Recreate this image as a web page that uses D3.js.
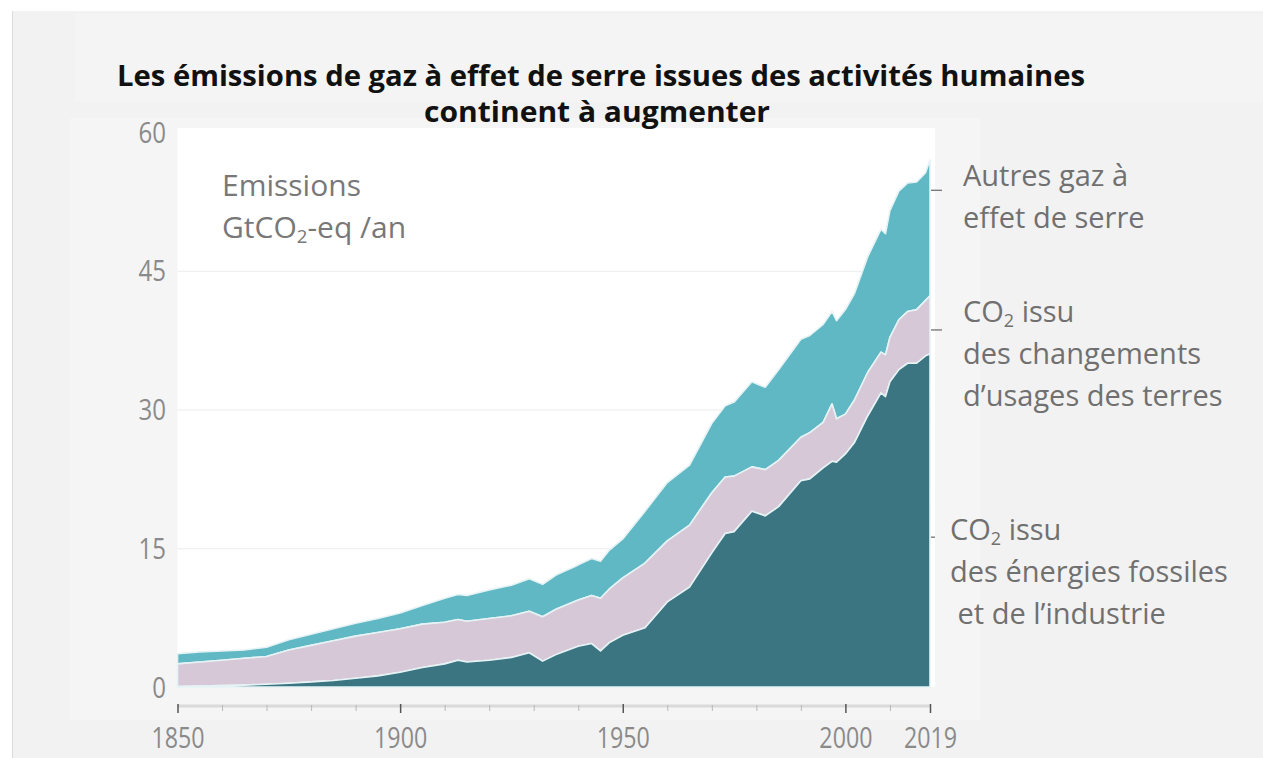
<!DOCTYPE html>
<html>
<head>
<meta charset="utf-8">
<script src="https://cdn.jsdelivr.net/npm/d3@7"></script>
<style>
  body { margin: 0; background: #fff; }
  svg { display: block; }
</style>
</head>
<body>
<svg id="chart"></svg>
<script>
// values (GtCO2-eq / an)
const years = [1850, 1855, 1860, 1865, 1870, 1875, 1880, 1885, 1890, 1895,
    1900, 1905, 1910, 1913, 1915, 1920, 1925, 1929, 1932, 1935,
    1940, 1943, 1945, 1947, 1950, 1955, 1960, 1965, 1970, 1973,
    1975, 1979, 1982, 1985, 1990, 1992, 1995, 1997, 1998, 2000,
    2002, 2005, 2008, 2009, 2010, 2012, 2014, 2016, 2018, 2019]

const fossil = [0.05, 0.1, 0.15, 0.2, 0.3, 0.4, 0.55, 0.7, 0.95, 1.2,
    1.6, 2.1, 2.5, 2.9, 2.7, 2.9, 3.2, 3.7, 2.8, 3.5,
    4.4, 4.7, 3.9, 4.8, 5.6, 6.4, 9.2, 10.8, 14.5, 16.6,
    16.8, 19.0, 18.5, 19.5, 22.3, 22.5, 23.7, 24.4, 24.3, 25.2,
    26.4, 29.3, 31.8, 31.4, 33.0, 34.3, 35.0, 35.0, 35.8, 36.0]

const landUse = [2.45, 2.6, 2.75, 2.9, 3.0, 3.6, 3.95, 4.3, 4.55, 4.7,
    4.7, 4.7, 4.5, 4.4, 4.4, 4.5, 4.5, 4.5, 4.8, 4.9,
    5.0, 5.2, 5.7, 5.8, 6.2, 7.0, 6.6, 6.7, 6.5, 6.1,
    6.0, 4.8, 5.0, 5.0, 4.7, 5.0, 4.9, 6.2, 4.7, 4.3,
    4.6, 4.7, 4.4, 4.5, 4.8, 5.4, 5.6, 5.8, 6.0, 6.3]

const otherGases = [1.1, 1.1, 1.0, 0.9, 1.0, 1.1, 1.2, 1.3, 1.4, 1.5,
    1.7, 2.0, 2.6, 2.7, 2.8, 3.1, 3.3, 3.5, 3.5, 3.7,
    3.8, 4.0, 4.0, 4.2, 4.2, 5.6, 6.3, 6.5, 7.5, 7.7,
    8.0, 9.2, 8.9, 9.8, 10.6, 10.5, 10.6, 10.0, 10.6, 11.3,
    11.5, 12.5, 13.3, 13.1, 13.7, 13.9, 13.9, 13.8, 13.8, 14.7]

const seriesKeys = ['fossil', 'landUse', 'otherGases']
const yTicks = [0, 15, 30, 45, 60]
const gridTicks = [15, 30, 45]
const xLabels = [1850, 1900, 1950, 2000, 2019]
const xMinor = [1860, 1870, 1880, 1890, 1910, 1920, 1930, 1940, 1960, 1970, 1980, 1990, 2010]
const titleLines = ['Les émissions de gaz à effet de serre issues des activités humaines', 'continent à augmenter']

const colors = { fossil: '#3b7581', landUse: '#d7c8d8', otherGases: '#5fb8c3' }

const W = 1263, H = 758
const svg = d3.select('#chart').attr('width', W).attr('height', H)
const font = "'Open Sans', 'Noto Sans', sans-serif"

// background panels
svg.append('rect').attr('x', 12).attr('y', 11).attr('width', W - 12).attr('height', H - 11)
    .attr('fill', '#f2f2f2')
svg.append('line').attr('x1', 12.5).attr('x2', 12.5).attr('y1', 11).attr('y2', H)
    .attr('stroke', '#dcdcdc')
svg.append('rect').attr('x', 75).attr('y', 14).attr('width', W - 75).attr('height', 88)
    .attr('fill', '#f4f4f4')
svg.append('rect').attr('x', 70).attr('y', 118).attr('width', 910).attr('height', 602)
    .attr('fill', '#f5f5f5')

const x = d3.scaleLinear().domain([1850, 2019]).range([177.5, 930])
const y = d3.scaleLinear().domain([0, 60]).range([687, 132])

// plot background
svg.append('rect')
    .attr('x', x(1850)).attr('y', y(60) - 4)
    .attr('width', x(2019) - x(1850) + 5).attr('height', y(0) - y(60) + 4)
    .attr('fill', '#ffffff')

// gridlines
svg.append('g')
    .attr('transform', `translate(${x(1850)},0)`)
    .call(d3.axisLeft(y).tickValues(gridTicks).tickSize(-(x(2019) - x(1850))).tickFormat(''))
    .call(g => g.select('.domain').remove())
    .call(g => g.selectAll('line').attr('stroke', '#ececec'))

// stacked areas
let rows = years.map((yr, i) => ({ year: yr, fossil: fossil[i], landUse: landUse[i], otherGases: otherGases[i] }))
let stacked = d3.stack().keys(seriesKeys)(rows)

let area = d3.area()
    .x(d => x(d.data.year))
    .y0(d => y(d[0]))
    .y1(d => y(d[1]))

svg.append('g').selectAll('path')
    .data(stacked.slice().reverse())
    .enter()
    .append('path')
    .attr('d', area)
    .attr('fill', d => colors[d.key])
    .attr('stroke', '#e6f3f5')
    .attr('stroke-width', 1.6)
    .attr('stroke-linejoin', 'round')

// squeeze tick labels a bit, the original face is narrower
function narrow (sel, k) {
    sel.each(function () {
        let w = this.getComputedTextLength()
        d3.select(this).attr('textLength', w * k).attr('lengthAdjust', 'spacingAndGlyphs')
    })
}

// y axis labels
svg.append('g')
    .attr('transform', 'translate(166,0)')
    .call(d3.axisLeft(y).tickValues(yTicks).tickSize(0).tickPadding(0))
    .call(g => g.select('.domain').remove())
    .call(g => g.selectAll('text')
        .attr('font-family', font).attr('font-size', 30).attr('fill', '#8a8a8a')
        .attr('dy', '0.34em').attr('x', 0)
        .call(narrow, 0.8))

// x axis
let xAxisG = svg.append('g').attr('transform', 'translate(0,706)')
xAxisG.append('line')
    .attr('x1', x(1850)).attr('x2', x(2019))
    .attr('stroke', '#dadada').attr('stroke-width', 3)
xAxisG.append('g')
    .call(d3.axisBottom(x).tickValues(xMinor).tickSize(5).tickFormat(''))
    .call(g => g.select('.domain').remove())
    .call(g => g.selectAll('line').attr('stroke', '#b8b8b8').attr('y1', -1))
xAxisG.append('g')
    .call(d3.axisBottom(x).tickValues(xLabels).tickSize(7).tickFormat(d3.format('d')))
    .call(g => g.select('.domain').remove())
    .call(g => g.selectAll('line').attr('stroke', '#555').attr('stroke-width', 1.5).attr('y1', -2))
    .call(g => g.selectAll('text')
        .attr('font-family', font).attr('font-size', 29).attr('fill', '#8a8a8a')
        .attr('y', 42).attr('dy', null)
        .call(narrow, 0.8))

// helper for CO2 style subscripts
function richLine (sel, parts) {
    parts.forEach(p => {
        let t = sel.append('tspan').text(p.t)
        if (p.sub) t.attr('font-size', '62%').attr('dy', 5)
        if (p.after) t.attr('dy', -5)
    })
}

// unit label
let unit = svg.append('g').attr('font-family', font).attr('font-size', 30).attr('fill', '#787878')
unit.append('text').attr('x', 222).attr('y', 196).text('Emissions')
richLine(unit.append('text').attr('x', 222).attr('y', 238),
    [{ t: 'GtCO' }, { t: '2', sub: true }, { t: '-eq /an', after: true }])

// title
svg.append('g').selectAll('text')
    .data(titleLines)
    .enter()
    .append('text')
    .attr('x', (d, i) => i == 0 ? 117 : 424)
    .attr('y', (d, i) => 86 + 36 * i)
    .attr('font-family', font)
    .attr('font-weight', 'bold')
    .attr('font-size', 29)
    .attr('fill', '#111')
    .attr('textLength', (d, i) => i == 0 ? 968 : 346)
    .attr('lengthAdjust', 'spacingAndGlyphs')
    .text(d => d)

// series labels on the right
let labels = [
    { v: 53.7, x: 963, y: 186, tick: 11, lines: [[{ t: 'Autres gaz à' }], [{ t: 'effet de serre' }]] },
    { v: 38.6, x: 963, y: 322, tick: 11, lines: [[{ t: 'CO' }, { t: '2', sub: true }, { t: ' issu', after: true }],
        [{ t: 'des changements' }], [{ t: 'd\u2019usages des terres' }]] },
    { v: 16.2, x: 950, y: 540, tick: 4, lines: [[{ t: 'CO' }, { t: '2', sub: true }, { t: ' issu', after: true }],
        [{ t: 'des énergies fossiles' }], [{ t: ' et de l\u2019industrie' }]] }
]

let lab = svg.append('g').attr('font-family', font).attr('font-size', 29).attr('fill', '#707070')
labels.forEach(l => {
    lab.append('line')
        .attr('x1', x(2019) + 1).attr('x2', x(2019) + 1 + l.tick)
        .attr('y1', y(l.v)).attr('y2', y(l.v))
        .attr('stroke', '#666').attr('stroke-width', 1.2)
    l.lines.forEach((parts, i) => {
        richLine(lab.append('text').attr('x', l.x).attr('y', l.y + 42 * i).attr('xml:space', 'preserve'), parts)
    })
})
</script>
</body>
</html>
